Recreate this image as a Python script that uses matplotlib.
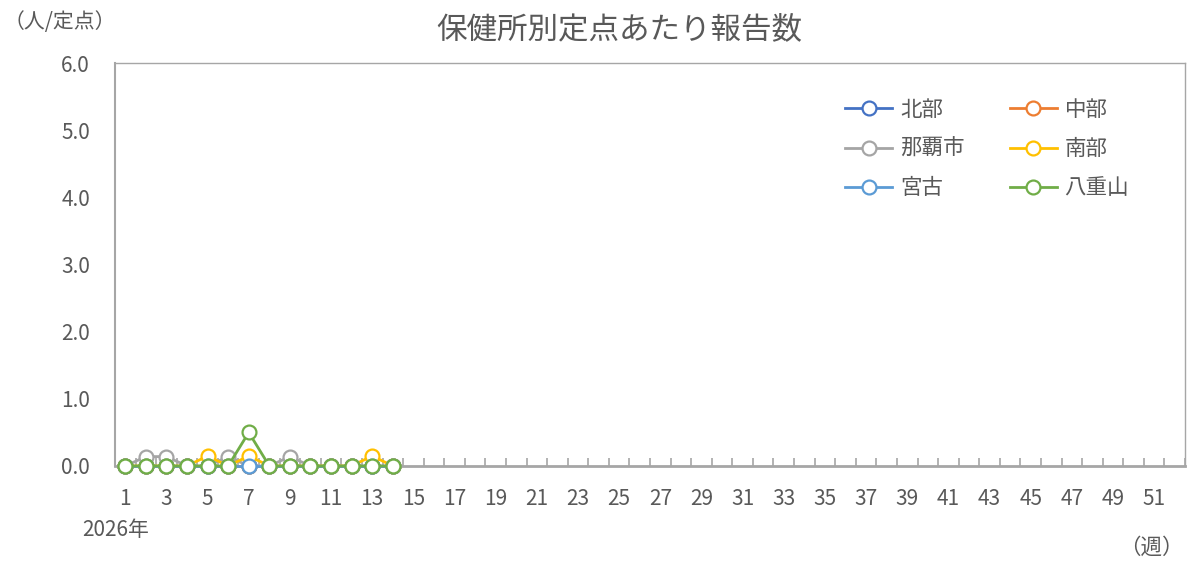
"""Reported cases per sentinel site by health-centre district."""

import numpy as np
import matplotlib

matplotlib.use("Agg")
import matplotlib.pyplot as plt

weeks = np.arange(1, 15)
district_names = ["北部", "中部", "那覇市", "南部", "宮古", "八重山"]
hokubu = [0, 0, 0, 0, 0, 0, 0, 0, 0, 0, 0, 0, 0, 0]
chubu = [0, 0, 0, 0, 0, 0, 0, 0, 0, 0, 0, 0, 0, 0]
naha = [0, 0.14, 0.14, 0, 0, 0.14, 0, 0, 0.14, 0, 0, 0, 0, 0]
nanbu = [0, 0, 0, 0, 0.15, 0, 0.15, 0, 0, 0, 0, 0, 0.15, 0]
miyako = [0, 0, 0, 0, 0, 0, 0, 0, 0, 0, 0, 0, 0, 0]
yaeyama = [0, 0, 0, 0, 0, 0, 0.5, 0, 0, 0, 0, 0, 0, 0]
series = [hokubu, chubu, naha, nanbu, miyako, yaeyama]
colors = ["#4472C4", "#ED7D31", "#A5A5A5", "#FFC000", "#5B9BD5", "#70AD47"]

n_weeks = 52
x_labels = list(range(1, n_weeks + 1, 2))
y_ticks = [0, 1, 2, 3, 4, 5, 6]

text_color = "#595959"
plt.rcParams["font.family"] = ["Noto Sans CJK JP", "DejaVu Sans"]

fig = plt.figure(figsize=(11.87, 5.62), dpi=100)
W, H = 1187, 562
ax = fig.add_axes([115 / W, 1 - 466 / H, (1185 - 115) / W, (466 - 63) / H])

handles = []
for name, vals, col in zip(district_names, series, colors):
    (line,) = ax.plot(
        weeks, vals, color=col, linewidth=2.0, marker="o", markersize=10,
        markerfacecolor="white", markeredgecolor=col, markeredgewidth=1.6,
        label=name, clip_on=False, zorder=3,
    )
    handles.append(line)

ax.set_xlim(0.5, n_weeks + 0.5)
ax.set_ylim(0, 6)
ax.set_yticks(y_ticks)
ax.set_yticklabels([f"{v:.1f}" for v in y_ticks])
ax.set_xticks(x_labels)
ax.set_xticklabels([str(v) for v in x_labels])
ax.set_xticks(np.arange(0.5, n_weeks + 1, 1), minor=True)
ax.tick_params(axis="x", which="major", length=0, pad=16, labelsize=15, labelcolor=text_color)
ax.tick_params(axis="x", which="minor", direction="in", length=6, width=1.2, color="#A6A6A6")
ax.tick_params(axis="y", length=0, pad=18, labelsize=15, labelcolor=text_color)

ax.spines["bottom"].set_color("#A6A6A6")
ax.spines["bottom"].set_linewidth(2.0)
ax.spines["left"].set_color("#A6A6A6")
ax.spines["left"].set_linewidth(1.5)
for side in ("top", "right"):
    ax.spines[side].set_color("#A6A6A6")
    ax.spines[side].set_linewidth(1.0)

# legend reads row by row: reorder for matplotlib's column filling
order = [0, 2, 4, 1, 3, 5]
fig.legend(
    [handles[i] for i in order], [district_names[i] for i in order],
    loc="upper left", bbox_to_anchor=(845 / W, 1 - 99 / H), ncol=2,
    frameon=False, fontsize=15.5, handlelength=2.2, handletextpad=0.35,
    columnspacing=2.1, labelspacing=0.8, borderpad=0, borderaxespad=0,
    labelcolor=text_color,
)

fig.text(619 / W, 1 - 30 / H, "保健所別定点あたり報告数", ha="center", va="center",
         fontsize=22, color=text_color)
fig.text(4 / W, 1 - 22 / H, "（人/定点）", ha="left", va="center", fontsize=15, color=text_color)
fig.text(82 / W, 1 - 530 / H, "2026年", ha="left", va="center", fontsize=15, color=text_color)
fig.text(1184 / W, 1 - 548 / H, "（週）", ha="right", va="center", fontsize=15.5, color=text_color)

fig.savefig("out.png", dpi=100)
